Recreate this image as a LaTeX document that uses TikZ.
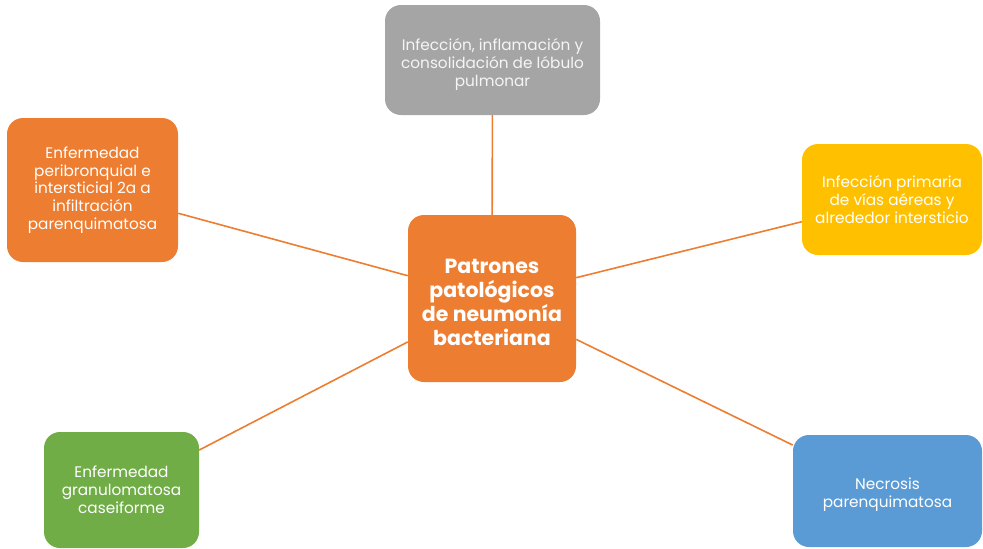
\documentclass[tikz,border=0pt]{standalone}
\usepackage{fontspec}
\setmainfont{Poppins}
\usetikzlibrary{backgrounds}
\definecolor{cOrange}{HTML}{ED7D31}
\definecolor{cGray}{HTML}{A5A5A5}
\definecolor{cYellow}{HTML}{FFC000}
\definecolor{cGreen}{HTML}{70AD47}
\definecolor{cBlue}{HTML}{5B9BD5}
\tikzset{
  boxbase/.style={rounded corners=16pt, text=white, align=center, inner sep=2pt,
    font=\fontsize{15.3}{17.8}\selectfont},
  link/.style={draw=cOrange, line width=1.6pt},
}
\begin{document}
\begin{tikzpicture}[x=1pt,y=-1pt]
\useasboundingbox (0,0) rectangle (983,549);
\node[boxbase, fill=cOrange, minimum width=168pt, minimum height=167pt,
  font=\fontsize{20.5}{24}\selectfont\bfseries] (c) at (492,298.5)
  {\rule{0pt}{23pt}Patrones\\patológicos\\de neumonía\\bacteriana};
\node[boxbase, fill=cGray, minimum width=215pt, minimum height=110pt, text=white!92!gray] (g) at (492.5,60)
  {\rule{0pt}{21pt}Infección, inflamación y\\consolidación de lóbulo\\pulmonar};
\node[boxbase, fill=cOrange, minimum width=171pt, minimum height=144pt] (o) at (92.5,190)
  {Enfermedad\\peribronquial e\\intersticial 2a a\\infiltración\\parenquimatosa};
\node[boxbase, fill=cYellow, minimum width=180pt, minimum height=111pt] (y) at (892,199.5)
  {Infección primaria\\de vías aéreas y\\alrededor intersticio};
\node[boxbase, fill=cGreen, minimum width=155pt, minimum height=116pt] (gr) at (121.5,490)
  {Enfermedad\\granulomatosa\\caseiforme};
\node[boxbase, fill=cBlue, minimum width=189pt, minimum height=112pt] (b) at (887.5,491)
  {\rule{0pt}{19pt}Necrosis\\parenquimatosa};
\begin{scope}[on background layer]
\draw[link] (c) -- (g);
\draw[link] (c) -- (o);
\draw[link] (c) -- (y);
\draw[link] (c) -- (gr);
\draw[link] (c) -- (b);
\end{scope}
\end{tikzpicture}
\end{document}
